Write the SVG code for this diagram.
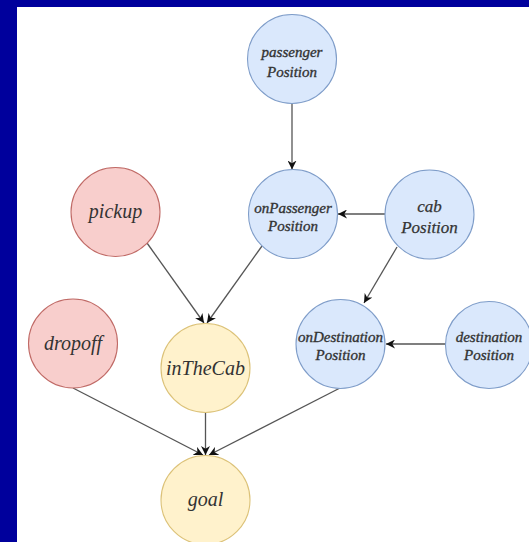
<svg xmlns="http://www.w3.org/2000/svg" width="529" height="542" viewBox="0 0 529 542">
<style>
.blue{fill:#dae8fc;stroke:#7f9dc9;stroke-width:1.1}
.red{fill:#f8cecc;stroke:#c06a66;stroke-width:1.1}
.yel{fill:#fff2cc;stroke:#dcc278;stroke-width:1.1}
text{font-family:"Liberation Serif","DejaVu Serif",serif;font-style:italic;fill:#333;text-anchor:middle}
.s{font-size:15px;stroke:#333;stroke-width:0.35}
.m{font-size:17px;stroke:#333;stroke-width:0.25}
.l{font-size:20px}
.e{fill:none;stroke:#555;stroke-width:1.3;marker-end:url(#arr)}
</style>
<defs>
<marker id="arr" viewBox="0 0 10 10" refX="10" refY="5" markerWidth="9" markerHeight="9" markerUnits="userSpaceOnUse" orient="auto">
<path d="M0,0 L10,5 L0,10 L3,5 z" fill="#111"/>
</marker>
</defs>
<rect x="0" y="0" width="529" height="542" fill="#00009c"/>
<rect x="17" y="7" width="512" height="535" fill="#ffffff"/>
<g id="connectors">
<line class="e" x1="292" y1="104" x2="292" y2="169.5"/>
<line class="e" x1="385" y1="214" x2="338" y2="214"/>
<line class="e" x1="397" y1="247" x2="364" y2="303"/>
<line class="e" x1="447" y1="344" x2="386" y2="344"/>
<line class="e" x1="147" y1="243" x2="204" y2="323"/>
<line class="e" x1="262" y1="246" x2="207" y2="323"/>
<line class="e" x1="73" y1="388" x2="203" y2="455"/>
<line class="e" x1="205.5" y1="412.5" x2="205.5" y2="455"/>
<line class="e" x1="340" y1="388" x2="209" y2="455"/>
</g>
<g id="passengerPosition">
<circle class="blue" cx="292" cy="59" r="44.5"/>
<text class="s" x="292" y="57">passenger</text>
<text class="s" x="292" y="77">Position</text>
</g>
<g id="onPassengerPosition">
<circle class="blue" cx="293" cy="214" r="44.5"/>
<text class="s" x="293" y="212.5">onPassenger</text>
<text class="s" x="293" y="231">Position</text>
</g>
<g id="cabPosition">
<circle class="blue" cx="429.5" cy="214.5" r="44.5"/>
<text class="m" x="429.5" y="212">cab</text>
<text class="m" x="429.5" y="232.5">Position</text>
</g>
<g id="pickup">
<circle class="red" cx="115.5" cy="212" r="44.5"/>
<text class="l" x="115.5" y="217.5">pickup</text>
</g>
<g id="dropoff">
<circle class="red" cx="73" cy="343.5" r="44.5"/>
<text class="l" x="73" y="350">dropoff</text>
</g>
<g id="inTheCab">
<circle class="yel" cx="205.5" cy="368" r="44.5"/>
<text class="l" x="205.5" y="374.5">inTheCab</text>
</g>
<g id="onDestinationPosition">
<circle class="blue" cx="340.5" cy="344" r="44.5"/>
<text class="s" x="340.5" y="341.5">onDestination</text>
<text class="s" x="340.5" y="359.5">Position</text>
</g>
<g id="destinationPosition">
<circle class="blue" cx="489" cy="345" r="43.5"/>
<text class="s" x="489" y="341.5">destination</text>
<text class="s" x="489" y="360">Position</text>
</g>
<g id="goal">
<circle class="yel" cx="205.5" cy="500" r="44.5"/>
<text class="l" x="205.5" y="506">goal</text>
</g>
</svg>
